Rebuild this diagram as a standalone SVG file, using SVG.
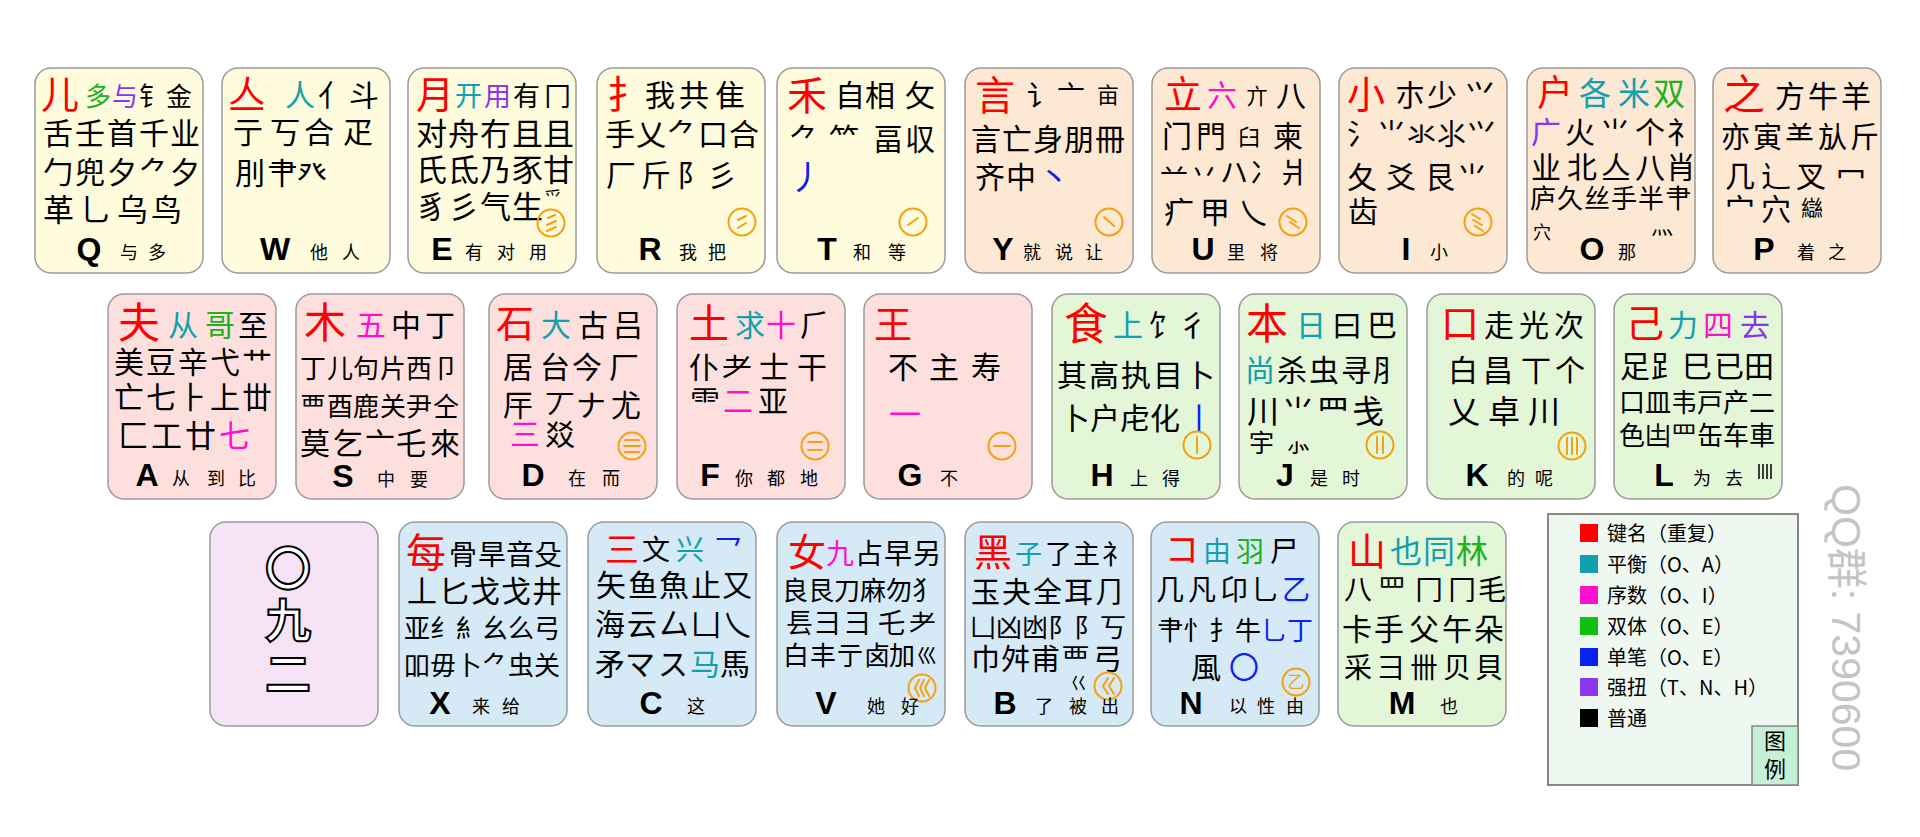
<svg xmlns="http://www.w3.org/2000/svg" width="1920" height="837" viewBox="0 0 1920 837">
<style>
.k{stroke:#9a9a9a;stroke-width:1.5}
.y{fill:#fffcdd}.p{fill:#fce8d3}.pk{fill:#fde0de}.g{fill:#e3f6d8}.b{fill:#d5eaf6}.l{fill:#f6e4f6}
text{font-family:"Noto Sans CJK SC","Noto Sans CJK JP",sans-serif;fill:#000}
.r{fill:#ff0000}.t{fill:#12a0ae}.m{fill:#ff10d0}.gr{fill:#20b020}.bl{fill:#0a22ee}.pu{fill:#8a35f0}
.L{font-family:"Liberation Sans",Arial,sans-serif;font-weight:bold;font-size:32px;text-anchor:middle}
.s{font-size:18px}
.sym circle{fill:none;stroke:#f5a010;stroke-width:2}
.sym path{fill:none;stroke:#f5a010;stroke-width:2;stroke-linecap:round;stroke-linejoin:round}
.sym text{fill:#f5a010;font-size:17px;text-anchor:middle}
.big{font-size:46px;font-weight:bold;fill:#fff;stroke:#000;stroke-width:2;text-anchor:middle}
</style>
<rect width="1920" height="837" fill="#fff"/>

<g id="key-Q" transform="translate(35,68)">
<rect class="k y" width="168" height="205" rx="16"/>
<text class="r" x="6" y="40" font-size="38">儿</text>
<text y="38" font-size="26"><tspan class="gr" x="50">多</tspan><tspan class="pu" x="77">与</tspan><tspan x="104 131">钅金</tspan></text>
<text x="8 40 72 104 135" y="76" font-size="30">舌壬首千业</text>
<text x="8 40 72 104 135" y="115" font-size="30">勹兜夕⺈夕</text>
<text x="8 45 82 116" y="153" font-size="31">革乚乌鸟</text>
<text class="L" x="54" y="192">Q</text>
<text class="s" x="85 113" y="191">与多</text>
</g>

<g id="key-W" transform="translate(222,68)">
<rect class="k y" width="168" height="205" rx="16"/>
<text class="r" x="6" y="40" font-size="38">亼</text>
<text y="38" font-size="30"><tspan class="t" x="63">人</tspan><tspan x="96 127">亻斗</tspan></text>
<text x="11 48 82 121" y="75" font-size="30">亍丂合疋</text>
<text x="13 45 75" y="116" font-size="30">刖肀癶</text>
<text class="L" x="53" y="192">W</text>
<text class="s" x="88 120" y="191">他人</text>
</g>

<g id="key-E" transform="translate(408,68)">
<rect class="k y" width="168" height="205" rx="16"/>
<text class="r" x="8" y="40" font-size="38">月</text>
<text y="38" font-size="27"><tspan class="t" x="47">开</tspan><tspan class="pu" x="76">用</tspan><tspan x="105 136">有冂</tspan></text>
<text x="8 40 72 104 135" y="77" font-size="31">对舟冇且且</text>
<text x="8 40 72 104 135" y="113" font-size="31">氏氐乃豕甘</text>
<text x="8 40 72 104" y="150" font-size="31">豸彡气生</text>
<text x="136" y="137" font-size="18">⺤</text>
<g class="sym" transform="translate(143,155)"><circle r="13.5"/><path d="M4,-8 L-3,-5 M5,-2 L-4,2 M5,4 L-4,8"/></g>
<text class="L" x="34" y="192">E</text>
<text class="s" x="57 89 121" y="191">有对用</text>
</g>

<g id="key-R" transform="translate(597,68)">
<rect class="k y" width="168" height="205" rx="16"/>
<text class="r" x="10" y="40" font-size="38">扌</text>
<text x="48 82 118" y="38" font-size="30">我共隹</text>
<text x="8 39 70 101 132" y="77" font-size="30">手乂⺈口合</text>
<text x="9 44 80 110" y="118" font-size="30">厂斤阝彡</text>
<g class="sym" transform="translate(145,154)"><circle r="13.5"/><path d="M4,-6 L-4,-2 M4,1 L-4,6"/></g>
<text class="L" x="53" y="192">R</text>
<text class="s" x="82 111" y="191">我把</text>
</g>

<g id="key-T" transform="translate(777,68)">
<rect class="k y" width="168" height="205" rx="16"/>
<text class="r" x="10" y="42" font-size="40">禾</text>
<text x="58 88 128" y="38" font-size="30">自相攵</text>
<text x="12 52 96 128" y="82" font-size="30">⺈⺮畐収</text>
<text class="bl" x="12" y="122" font-size="34">丿</text>
<g class="sym" transform="translate(136,154)"><circle r="13.5"/><path d="M5,-4 L-5,3"/></g>
<text class="L" x="50" y="192">T</text>
<text class="s" x="76 111" y="191">和等</text>
</g>

<g id="key-Y" transform="translate(965,68)">
<rect class="k p" width="168" height="205" rx="16"/>
<text class="r" x="10" y="42" font-size="40">言</text>
<text x="62 92" y="38" font-size="28">讠亠</text>
<text x="132" y="35" font-size="22">亩</text>
<text x="6 37 68 99 130" y="82" font-size="30">言亡身朋冊</text>
<text x="10 41" y="120" font-size="30">齐中</text>
<text class="bl" x="74" y="120" font-size="30">丶</text>
<g class="sym" transform="translate(144,154)"><circle r="13.5"/><path d="M-5,-5 L5,4"/></g>
<text class="L" x="38" y="192">Y</text>
<text class="s" x="58 90 120" y="191">就说让</text>
</g>

<g id="key-U" transform="translate(1152,68)">
<rect class="k p" width="168" height="205" rx="16"/>
<text class="r" x="12" y="40" font-size="38">立</text>
<text class="m" x="55" y="38" font-size="30">六</text>
<text x="94" y="36" font-size="22">亣</text>
<text x="124" y="38" font-size="30">八</text>
<text x="10 44" y="79" font-size="30">门門</text>
<text x="86" y="77" font-size="22">臼</text>
<text x="121" y="79" font-size="30">柬</text>
<text x="8 38 68 98 128" y="115" font-size="28">䒑丷ハ冫爿</text>
<text x="12 48 86" y="155" font-size="30">疒甲乀</text>
<g class="sym" transform="translate(141,154)"><circle r="13.5"/><path d="M-6,-6 L3,0 M-3,0 L6,6"/></g>
<text class="L" x="51" y="192">U</text>
<text class="s" x="75 108" y="191">里将</text>
</g>

<g id="key-I" transform="translate(1339,68)">
<rect class="k p" width="168" height="205" rx="16"/>
<text class="r" x="8" y="40" font-size="38">小</text>
<text x="56 88 126" y="38" font-size="30">朩少⺍</text>
<text x="8 38 68 98 128" y="77" font-size="29">氵⺌氺⺢⺍</text>
<text x="8 47 86 118" y="120" font-size="30">夂爻艮⺌</text>
<text x="9" y="154" font-size="30">齿</text>
<g class="sym" transform="translate(139,154)"><circle r="13.5"/><path d="M-6,-8 L2,-3 M-5,-2 L4,3 M-3,4 L5,9"/></g>
<text class="L" x="67" y="192">I</text>
<text class="s" x="91" y="191">小</text>
</g>

<g id="key-O" transform="translate(1527,68)">
<rect class="k p" width="168" height="205" rx="16"/>
<text class="r" x="10" y="38" font-size="36">户</text>
<text y="37" font-size="32"><tspan class="t" x="52 91">各米</tspan><tspan class="gr" x="126">双</tspan></text>
<text y="75" font-size="30"><tspan class="pu" x="4">广</tspan><tspan x="38 73 108 140">火⺌个礻</tspan></text>
<text x="4 40 74 108 139" y="110" font-size="30">业北亼八肖</text>
<text x="3 30 57 84 111 138" y="140" font-size="26">庐久丝手半肀</text>
<text x="6" y="171" font-size="18">穴</text>
<text x="124" y="166" font-size="22">灬</text>
<text class="L" x="65" y="192">O</text>
<text class="s" x="91" y="191">那</text>
</g>

<g id="key-P" transform="translate(1713,68)">
<rect class="k p" width="168" height="205" rx="16"/>
<text class="r" x="10" y="42" font-size="42">之</text>
<text x="62 95 128" y="39" font-size="30">方牛羊</text>
<text x="8 40 72 105 137" y="80" font-size="29">亦寅⺷㫃斤</text>
<text x="12 48 83 123" y="119" font-size="30">几辶叉冖</text>
<text x="12 48" y="152" font-size="30">宀穴</text>
<text x="88" y="148" font-size="22">䜌</text>
<text class="L" x="51" y="192">P</text>
<text class="s" x="84 115" y="191">着之</text>
</g>

<g id="key-A" transform="translate(108,294)">
<rect class="k pk" width="168" height="205" rx="16"/>
<text class="r" x="10" y="44" font-size="42">夫</text>
<text y="42" font-size="30"><tspan class="t" x="60">从</tspan><tspan class="gr" x="97">哥</tspan><tspan x="130">至</tspan></text>
<text x="6 38 70 102 134" y="79" font-size="30">美豆辛弋艹</text>
<text x="6 38 70 102 134" y="114" font-size="30">亡七⺊上丗</text>
<text y="153" font-size="31"><tspan x="10 43 77">匚工廿</tspan><tspan class="m" x="111">七</tspan></text>
<text class="L" x="39" y="192">A</text>
<text class="s" x="64 99 130" y="191">从到比</text>
</g>

<g id="key-S" transform="translate(296,294)">
<rect class="k pk" width="168" height="205" rx="16"/>
<text class="r" x="8" y="44" font-size="42">木</text>
<text y="42" font-size="30"><tspan class="m" x="60">五</tspan><tspan x="95 129">中丁</tspan></text>
<text x="4 31 57 84 110 137" y="84" font-size="26">丁儿句片西卩</text>
<text x="4 31 57 84 110 137" y="122" font-size="26">覀酉鹿关尹仝</text>
<text x="4 37 69 100 134" y="160" font-size="30">莫乞亠乇來</text>
<text class="L" x="47" y="193">S</text>
<text class="s" x="81 114" y="192">中要</text>
</g>

<g id="key-D" transform="translate(489,294)">
<rect class="k pk" width="168" height="205" rx="16"/>
<text class="r" x="7" y="43" font-size="38">石</text>
<text y="42" font-size="30"><tspan class="t" x="52">大</tspan><tspan x="89 124">古吕</tspan></text>
<text x="14 51 83 120" y="84" font-size="30">居台今厂</text>
<text x="14 56 87 122" y="122" font-size="30">厈丆ナ尤</text>
<text y="151" font-size="30"><tspan class="m" x="21">三</tspan><tspan x="56">㸚</tspan></text>
<g class="sym" transform="translate(143,152)"><circle r="13.5"/><path d="M-7,-6 H7 M-8,0 H8 M-7,6 H7"/></g>
<text class="L" x="44" y="192">D</text>
<text class="s" x="79 113" y="191">在而</text>
</g>

<g id="key-F" transform="translate(677,294)">
<rect class="k pk" width="168" height="205" rx="16"/>
<text class="r" x="12" y="44" font-size="40">土</text>
<text y="42" font-size="30"><tspan class="t" x="58">求</tspan><tspan class="m" x="89">十</tspan><tspan x="123">⺁</tspan></text>
<text x="12 45 82 120" y="84" font-size="30">仆耂士干</text>
<text y="118" font-size="30"><tspan x="13">⻗</tspan><tspan class="m" x="46">二</tspan><tspan x="81">亚</tspan></text>
<g class="sym" transform="translate(138,152)"><circle r="13.5"/><path d="M-7,-4 H7 M-7,4 H7"/></g>
<text class="L" x="33" y="192">F</text>
<text class="s" x="58 90 123" y="191">你都地</text>
</g>

<g id="key-G" transform="translate(864,294)">
<rect class="k pk" width="168" height="205" rx="16"/>
<text class="r" x="10" y="44" font-size="38">王</text>
<text x="24 65 107" y="84" font-size="30">不主寿</text>
<text class="m" x="25" y="132" font-size="32">一</text>
<g class="sym" transform="translate(138,152)"><circle r="13.5"/><path d="M-8,0 H8"/></g>
<text class="L" x="46" y="192">G</text>
<text class="s" x="76" y="191">不</text>
</g>

<g id="key-H" transform="translate(1052,294)">
<rect class="k g" width="168" height="205" rx="16"/>
<text class="r" x="12" y="46" font-size="44">食</text>
<text y="42" font-size="30"><tspan class="t" x="61">上</tspan><tspan x="96 126">饣彳</tspan></text>
<text x="5 37 69 101 133" y="92" font-size="30">其高执目卜</text>
<text x="8 38 68 98" y="135" font-size="30">卜户虍化</text>
<text class="bl" x="132" y="135" font-size="30">丨</text>
<g class="sym" transform="translate(145,151)"><circle r="13.5"/><path d="M0,-8 V8"/></g>
<text class="L" x="50" y="192">H</text>
<text class="s" x="78 110" y="191">上得</text>
</g>

<g id="key-J" transform="translate(1239,294)">
<rect class="k g" width="168" height="205" rx="16"/>
<text class="r" x="7" y="45" font-size="42">本</text>
<text y="42" font-size="30"><tspan class="t" x="57">日</tspan><tspan x="93 128">曰巴</tspan></text>
<text y="87" font-size="30"><tspan class="t" x="6">尚</tspan><tspan x="38 70 102 134">杀虫寻⺼</tspan></text>
<text x="8 43 78 113" y="129" font-size="32">川⺌⺲戋</text>
<text x="10 47" y="158" font-size="25">宇⺗</text>
<g class="sym" transform="translate(141,151)"><circle r="13.5"/><path d="M-3,-8 V8 M3,-8 V8"/></g>
<text class="L" x="46" y="192">J</text>
<text class="s" x="71 103" y="191">是时</text>
</g>

<g id="key-K" transform="translate(1427,294)">
<rect class="k g" width="168" height="205" rx="16"/>
<text class="r" x="14" y="43" font-size="38">口</text>
<text x="57 92 127" y="42" font-size="30">走光次</text>
<text x="21 56 94 128" y="87" font-size="30">白昌丅个</text>
<text x="21 61 101" y="129" font-size="32">乂卓川</text>
<g class="sym" transform="translate(145,152)"><circle r="13.5"/><path d="M-5,-8 V8 M0,-8 V8 M5,-8 V8"/></g>
<text class="L" x="50" y="192">K</text>
<text class="s" x="80 108" y="191">的呢</text>
</g>

<g id="key-L" transform="translate(1614,294)">
<rect class="k g" width="168" height="205" rx="16"/>
<text class="r" x="12" y="43" font-size="38">己</text>
<text y="42" font-size="30"><tspan class="t" x="54">力</tspan><tspan class="m" x="89">四</tspan><tspan class="pu" x="126">去</tspan></text>
<text x="6 37 68 100 130" y="83" font-size="30">足⻊巳已田</text>
<text x="5 31 57 83 109 135" y="118" font-size="26">口皿韦戸产二</text>
<text x="5 31 57 83 109 135" y="151" font-size="26">色凷罒缶车車</text>
<path d="M145,170 V185 M149,170 V185 M153,170 V185 M157,170 V185" stroke="#000" stroke-width="1.5"/>
<text class="L" x="50" y="192">L</text>
<text class="s" x="79 111" y="191">为去</text>
</g>

<g id="key-blank" transform="translate(210,522)">
<rect class="k l" width="168" height="204" rx="16"/>
<text class="big" x="78" y="63">〇</text>
<text class="big" x="78" y="115">九</text>
<text class="big" x="78" y="168">二</text>
</g>

<g id="key-X" transform="translate(399,522)">
<rect class="k b" width="168" height="204" rx="16"/>
<text class="r" x="7" y="45" font-size="40">每</text>
<text x="50 79 107 135" y="43" font-size="28">骨旱音殳</text>
<text x="8 40 71 102 133" y="80" font-size="30">丄匕戈戈井</text>
<text x="5 31 57 83 109 135" y="116" font-size="26">亚纟糹幺么弓</text>
<text x="5 31 57 83 109 135" y="153" font-size="26">吅毋卜⺈虫关</text>
<text class="L" x="41" y="192">X</text>
<text class="s" x="73 103" y="191">来给</text>
</g>

<g id="key-C" transform="translate(588,522)">
<rect class="k b" width="168" height="204" rx="16"/>
<text class="r" x="17" y="40" font-size="34">三</text>
<text y="38" font-size="28"><tspan x="54">文</tspan><tspan class="t" x="88">兴</tspan><tspan class="bl" x="126">乛</tspan></text>
<text x="8 40 71 103 134" y="74" font-size="30">矢鱼魚止又</text>
<text x="7 39 71 103 134" y="113" font-size="30">海云厶凵乀</text>
<text y="153" font-size="30"><tspan x="7 37 70">矛マス</tspan><tspan class="t" x="102">马</tspan><tspan x="132">馬</tspan></text>
<text class="L" x="63" y="192">C</text>
<text class="s" x="99" y="191">这</text>
</g>

<g id="key-V" transform="translate(777,522)">
<rect class="k b" width="168" height="204" rx="16"/>
<text class="r" x="11" y="44" font-size="38">女</text>
<text y="42" font-size="28"><tspan class="m" x="49">九</tspan><tspan x="78 107 136">占早另</tspan></text>
<text x="5 31 57 83 109 135" y="78" font-size="26">良艮刀麻勿犭</text>
<text x="9 37 67 101 132" y="111" font-size="27">镸彐⺕乇⺹</text>
<text x="6 33 60 87 112" y="143" font-size="26">白丰亍卤加</text>
<text x="140" y="141" font-size="20">巛</text>
<g class="sym" transform="translate(145,166)"><circle r="13.5"/><path d="M-3,-8 L-7,0 L-3,8 M2,-8 L-2,0 L2,8 M7,-8 L3,0 L7,8"/></g>
<text class="L" x="49" y="192">V</text>
<text class="s" x="90 124" y="191">她好</text>
</g>

<g id="key-B" transform="translate(965,522)">
<rect class="k b" width="168" height="204" rx="16"/>
<text class="r" x="9" y="44" font-size="38">黑</text>
<text y="42" font-size="27"><tspan class="t" x="50">子</tspan><tspan x="80 108 137">了主礻</tspan></text>
<text x="6 37 68 99 130" y="81" font-size="29">玉夬全耳⺆</text>
<text x="5 31 57 83 109 135" y="115" font-size="26">凵凶凼阝阝丂</text>
<text x="6 36 66 96 128" y="148" font-size="29">巾舛甫覀弓</text>
<text x="105" y="167" font-size="17">巜</text>
<g class="sym" transform="translate(143,164)"><circle r="13.5"/><path d="M0,-8 L-5,0 L0,8 M6,-8 L1,0 L6,8"/></g>
<text class="L" x="40" y="192">B</text>
<text class="s" x="70 104 136" y="191">了被出</text>
</g>

<g id="key-N" transform="translate(1151,522)">
<rect class="k b" width="168" height="204" rx="16"/>
<text class="r" x="14" y="40" font-size="34">コ</text>
<text y="40" font-size="28"><tspan class="t" x="52">由</tspan><tspan class="gr" x="85">羽</tspan><tspan x="119">尸</tspan></text>
<text y="78" font-size="28"><tspan x="5 37 69 100">几凡卬乚</tspan><tspan class="bl" x="131">乙</tspan></text>
<text y="118" font-size="26"><tspan x="6 32 58 84">肀忄扌牛</tspan><tspan class="bl" x="110 136">乚丁</tspan></text>
<text y="156" font-size="30"><tspan x="40">風</tspan><tspan class="bl" x="78">〇</tspan></text>
<g class="sym" transform="translate(145,160)"><circle r="13.5"/><text y="6">乙</text></g>
<text class="L" x="40" y="192">N</text>
<text class="s" x="78 106 135" y="191">以性由</text>
</g>

<g id="key-M" transform="translate(1338,522)">
<rect class="k g" width="168" height="204" rx="16"/>
<text class="r" x="10" y="43" font-size="38">山</text>
<text y="41" font-size="32"><tspan class="t" x="52 85">也同</tspan><tspan class="gr" x="118">林</tspan></text>
<text x="6 40 77 110 140" y="78" font-size="28">八罒冂冂毛</text>
<text x="4 36 71 104 136" y="118" font-size="30">卡手父午朵</text>
<text x="6 39 72 105 137" y="156" font-size="28">采⺕卌贝貝</text>
<text class="L" x="64" y="192">M</text>
<text class="s" x="102" y="191">也</text>
</g>

<g id="legend">
<rect x="1548" y="514" width="250" height="271" fill="#eef8f1" stroke="#888" stroke-width="2"/>
<rect x="1580" y="524" width="18" height="18" fill="#ff0000"/>
<rect x="1580" y="555" width="18" height="18" fill="#12a0ae"/>
<rect x="1580" y="586" width="18" height="18" fill="#ff10d0"/>
<rect x="1580" y="617" width="18" height="18" fill="#10c010"/>
<rect x="1580" y="648" width="18" height="18" fill="#0a22ee"/>
<rect x="1580" y="678" width="18" height="18" fill="#8a35f0"/>
<rect x="1580" y="709" width="18" height="18" fill="#000"/>
<g font-size="20">
<text x="1607" y="541">键名（重复）</text>
<text x="1607" y="572">平衡（O、A）</text>
<text x="1607" y="603">序数（O、I）</text>
<text x="1607" y="634">双体（O、E）</text>
<text x="1607" y="665">单笔（O、E）</text>
<text x="1607" y="695">强扭（T、N、H）</text>
<text x="1607" y="726">普通</text>
</g>
<rect x="1752" y="726" width="46" height="59" fill="#c6f0d6" stroke="#888" stroke-width="1.5"/>
<text x="1775" y="749" font-size="22" text-anchor="middle">图</text>
<text x="1775" y="777" font-size="22" text-anchor="middle">例</text>
</g>

<text transform="translate(1832,484) rotate(90)" font-size="41" style="font-family:'Liberation Sans','Noto Sans CJK SC',sans-serif;fill:#c4c4c4">QQ群: 7390600</text>
</svg>
